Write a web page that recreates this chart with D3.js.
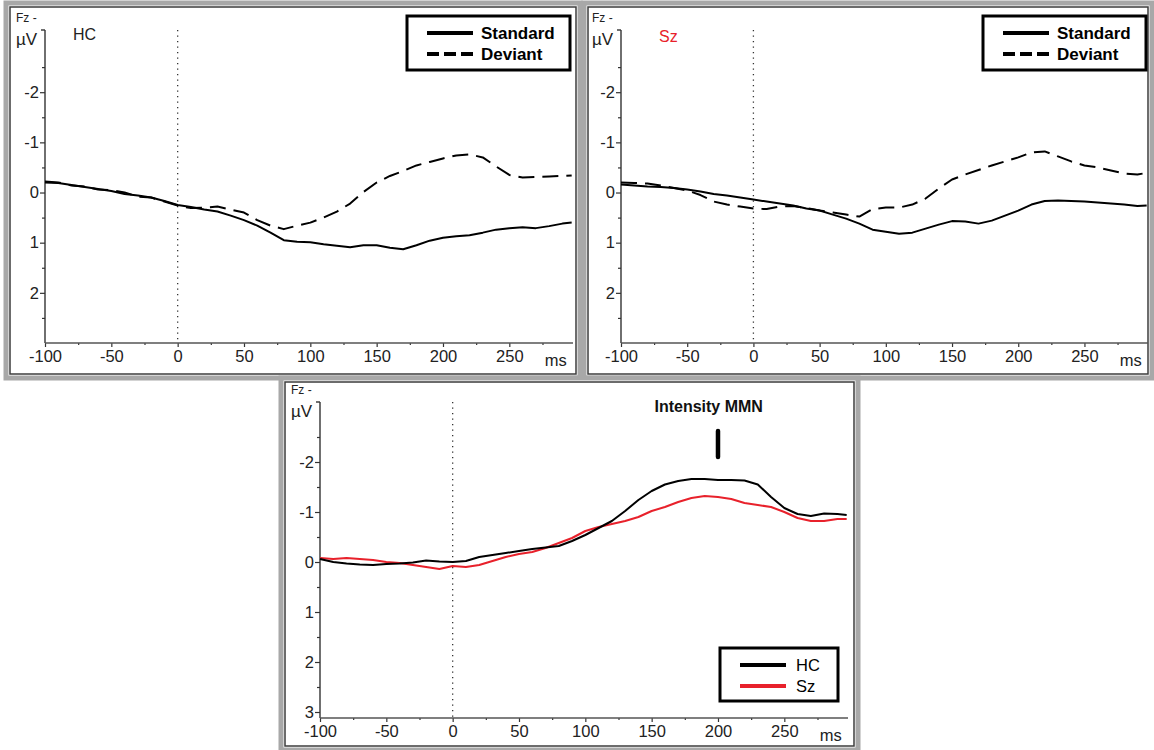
<!DOCTYPE html>
<html>
<head>
<meta charset="utf-8">
<script src="https://cdn.jsdelivr.net/npm/d3@7"></script>
<style>
  html, body { margin: 0; padding: 0; background: #fff; }
  svg { display: block; font-family: "Liberation Sans", Arial, sans-serif; }
</style>
</head>
<body>
<svg id="chart" width="1154" height="750"></svg>
<script>
// Sample times (ms) shared by every trace
const times = [-100, -90, -80, -70, -60, -50, -40, -30, -20, -10, 0, 10, 20, 30, 40, 50, 60, 70, 80, 90,
  100, 110, 120, 130, 140, 150, 160, 170, 180, 190, 200, 210, 220, 230, 240, 250, 260, 270, 280, 290, 297];

// Fz grand averages (µV), healthy controls
const hcStandard = [-0.20, -0.19, -0.15, -0.11, -0.07, -0.03, 0.03, 0.06, 0.10, 0.17, 0.25, 0.29, 0.34, 0.38, 0.46, 0.55, 0.66, 0.80, 0.95, 0.98,
  0.99, 1.03, 1.06, 1.09, 1.05, 1.05, 1.10, 1.13, 1.05, 0.96, 0.90, 0.87, 0.85, 0.80, 0.74, 0.71, 0.69, 0.71, 0.67, 0.62, 0.60];
const hcDeviant = [-0.22, -0.20, -0.14, -0.12, -0.06, -0.05, 0.00, 0.08, 0.10, 0.18, 0.26, 0.31, 0.30, 0.28, 0.34, 0.40, 0.55, 0.66, 0.73, 0.66,
  0.60, 0.50, 0.38, 0.22, -0.01, -0.20, -0.33, -0.43, -0.54, -0.61, -0.68, -0.74, -0.76, -0.70, -0.52, -0.35, -0.30, -0.31, -0.32, -0.33, -0.34];

// Fz grand averages (µV), schizophrenia patients
const szStandard = [-0.16, -0.14, -0.12, -0.11, -0.09, -0.06, -0.02, 0.03, 0.06, 0.10, 0.14, 0.18, 0.22, 0.26, 0.32, 0.36, 0.44, 0.52, 0.62, 0.74,
  0.78, 0.82, 0.80, 0.72, 0.64, 0.57, 0.58, 0.62, 0.56, 0.46, 0.36, 0.24, 0.17, 0.16, 0.17, 0.18, 0.20, 0.22, 0.24, 0.27, 0.26];
const szDeviant = [-0.20, -0.19, -0.18, -0.14, -0.09, -0.04, 0.05, 0.18, 0.24, 0.28, 0.32, 0.33, 0.28, 0.27, 0.31, 0.36, 0.40, 0.44, 0.48, 0.33,
  0.30, 0.30, 0.24, 0.12, -0.08, -0.26, -0.36, -0.45, -0.54, -0.62, -0.70, -0.80, -0.82, -0.72, -0.62, -0.54, -0.50, -0.44, -0.38, -0.36, -0.39];

// Deviant minus standard difference waves (µV)
const hcMMN = [-0.06, 0.00, 0.03, 0.05, 0.06, 0.04, 0.03, 0.01, -0.03, -0.01, 0.00, -0.02, -0.10, -0.14, -0.18, -0.22, -0.26, -0.29, -0.32, -0.42,
  -0.54, -0.68, -0.82, -1.02, -1.24, -1.42, -1.55, -1.62, -1.66, -1.66, -1.64, -1.64, -1.63, -1.55, -1.30, -1.08, -0.96, -0.92, -0.97, -0.96, -0.94];
const szMMN = [-0.08, -0.06, -0.08, -0.06, -0.04, 0.00, 0.02, 0.06, 0.10, 0.14, 0.08, 0.10, 0.06, -0.02, -0.10, -0.16, -0.20, -0.28, -0.38, -0.48,
  -0.62, -0.70, -0.76, -0.82, -0.90, -1.02, -1.10, -1.20, -1.28, -1.32, -1.30, -1.26, -1.18, -1.14, -1.10, -1.00, -0.88, -0.82, -0.82, -0.86, -0.86];

// Axis ticks
const xMajorTicks = [-100, -50, 0, 50, 100, 150, 200, 250];
const xMinorTicks = [-75, -25, 25, 75, 125, 175, 225, 275];
const yTicksTop = [-2, -1, 0, 1, 2];
const yTicksBottom = [-2, -1, 0, 1, 2, 3];
const yMinorTicks = [-2.5, -1.5, -0.5, 0.5, 1.5, 2.5];

const RED = "#e8212b";
const svg = d3.select("#chart");

function frame(x0, y0, x1, y1) {
  svg.append("rect").attr("x", x0).attr("y", y0).attr("width", x1 - x0).attr("height", y1 - y0)
    .attr("fill", "#fff").attr("stroke", "#a8a8a8").attr("stroke-width", 5);
  svg.append("rect").attr("x", x0 + 4).attr("y", y0 + 4).attr("width", x1 - x0 - 8).attr("height", y1 - y0 - 8)
    .attr("fill", "none").attr("stroke", "#3c3c3c").attr("stroke-width", 1.5);
}

function panel(opt) {
  const x = d3.scaleLinear().domain([-100, 298]).range([opt.left, opt.right]);
  const y = d3.scaleLinear().domain(opt.yDomain).range([opt.top, opt.bottom]);
  const g = svg.append("g");

  // stimulus onset marker
  g.append("line").attr("x1", x(0)).attr("x2", x(0)).attr("y1", opt.top).attr("y2", opt.bottom)
    .attr("stroke", "#333").attr("stroke-width", 1.3).attr("stroke-dasharray", "1.3,4.2");

  // y axis
  const yAx = g.append("g").attr("transform", `translate(${opt.left},0)`)
    .call(d3.axisLeft(y).tickValues(opt.yTicks).tickSize(5).tickPadding(1).tickFormat(d => String(d)));
  g.append("g").attr("transform", `translate(${opt.left},0)`)
    .call(d3.axisLeft(y).tickValues(yMinorTicks).tickSize(3).tickFormat(""))
    .select(".domain").remove();
  yAx.select(".domain").remove();
  g.append("line").attr("x1", opt.left).attr("x2", opt.left).attr("y1", opt.top).attr("y2", opt.bottom)
    .attr("stroke", "#333").attr("stroke-width", 1.4);
  g.append("line").attr("x1", opt.left - 4).attr("x2", opt.left).attr("y1", opt.top).attr("y2", opt.top)
    .attr("stroke", "#333").attr("stroke-width", 1.4);

  // x axis
  const xAx = g.append("g").attr("transform", `translate(0,${opt.bottom})`)
    .call(d3.axisBottom(x).tickValues(xMajorTicks).tickSize(4).tickPadding(3).tickFormat(d => String(d)));
  g.append("g").attr("transform", `translate(0,${opt.bottom})`)
    .call(d3.axisBottom(x).tickValues(xMinorTicks).tickSize(2).tickFormat(""))
    .select(".domain").remove();
  xAx.select(".domain").remove();
  g.append("line").attr("x1", opt.left).attr("x2", opt.right).attr("y1", opt.bottom).attr("y2", opt.bottom)
    .attr("stroke", "#555").attr("stroke-width", 1.6);

  g.selectAll(".tick line").attr("stroke", "#333").attr("stroke-width", 1.2);
  g.selectAll(".tick text").attr("font-size", 16.5).attr("fill", "#222")
    .attr("font-family", '"Liberation Sans", Arial, sans-serif');

  g.append("text").attr("x", x(285)).attr("y", opt.bottom + 23).attr("text-anchor", "middle")
    .attr("font-size", 16.5).attr("fill", "#222").text("ms");

  g.append("text").attr("x", opt.left - 29).attr("y", opt.top - 8).attr("font-size", 12).attr("fill", "#222").text("Fz -");
  g.append("text").attr("x", opt.left - 29).attr("y", opt.top + 15).attr("font-size", 17).attr("fill", "#222").text("µV");

  const line = d3.line().x((d, i) => x(times[i])).y(d => y(d));
  opt.series.forEach(s => {
    g.append("path").datum(s.values).attr("d", line).attr("fill", "none")
      .attr("stroke", s.color).attr("stroke-width", 2)
      .attr("stroke-dasharray", s.dash || null).attr("stroke-linejoin", "round");
  });
  return { x, y, g };
}

function legend(x0, y0, w, h, items, bold) {
  const g = svg.append("g");
  g.append("rect").attr("x", x0).attr("y", y0).attr("width", w).attr("height", h)
    .attr("fill", "#fff").attr("stroke", "#000").attr("stroke-width", 3);
  items.forEach((it, i) => {
    const cy = y0 + 17 + i * 21;
    g.append("line").attr("x1", x0 + 20).attr("x2", x0 + 66).attr("y1", cy).attr("y2", cy)
      .attr("stroke", it.color).attr("stroke-width", 4).attr("stroke-dasharray", it.dash || null);
    g.append("text").attr("x", x0 + (bold ? 74 : 76)).attr("y", cy + 6).attr("font-size", bold ? 17 : 16.5)
      .attr("font-weight", bold ? "bold" : "normal").attr("fill", "#000").text(it.label);
  });
}

// Healthy controls
frame(6, 3, 580, 378);
panel({ left: 45, right: 573, top: 30, bottom: 343, yDomain: [-3.24, 3.0], yTicks: yTicksTop,
  series: [{ values: hcStandard, color: "#000" }, { values: hcDeviant, color: "#000", dash: "16,8" }] });
svg.append("text").attr("x", 73).attr("y", 40).attr("font-size", 16).attr("fill", "#222").text("HC");
legend(407, 16, 163, 54, [{ label: "Standard", color: "#000" }, { label: "Deviant", color: "#000", dash: "12,5" }], true);

// Schizophrenia patients
frame(584, 3, 1152, 378);
panel({ left: 621, right: 1148, top: 30, bottom: 343, yDomain: [-3.24, 3.0], yTicks: yTicksTop,
  series: [{ values: szStandard, color: "#000" }, { values: szDeviant, color: "#000", dash: "16,8" }] });
svg.append("text").attr("x", 659).attr("y", 42).attr("font-size", 16).attr("fill", RED).text("Sz");
legend(983, 16, 163, 54, [{ label: "Standard", color: "#000" }, { label: "Deviant", color: "#000", dash: "12,5" }], true);

// Difference waves
frame(281, 378, 858, 750);
const mmn = panel({ left: 320, right: 848, top: 402, bottom: 718, yDomain: [-3.2, 3.12], yTicks: yTicksBottom,
  series: [{ values: szMMN, color: RED }, { values: hcMMN, color: "#000" }] });
svg.append("text").attr("x", mmn.x(193)).attr("y", 412).attr("text-anchor", "middle")
  .attr("font-size", 16).attr("font-weight", "bold").attr("fill", "#111").text("Intensity MMN");
svg.append("line").attr("x1", mmn.x(200)).attr("x2", mmn.x(200)).attr("y1", 431).attr("y2", 457)
  .attr("stroke", "#000").attr("stroke-width", 4.5).attr("stroke-linecap", "round");
legend(720, 648, 118, 53, [{ label: "HC", color: "#000" }, { label: "Sz", color: RED }], false);
</script>
</body>
</html>
